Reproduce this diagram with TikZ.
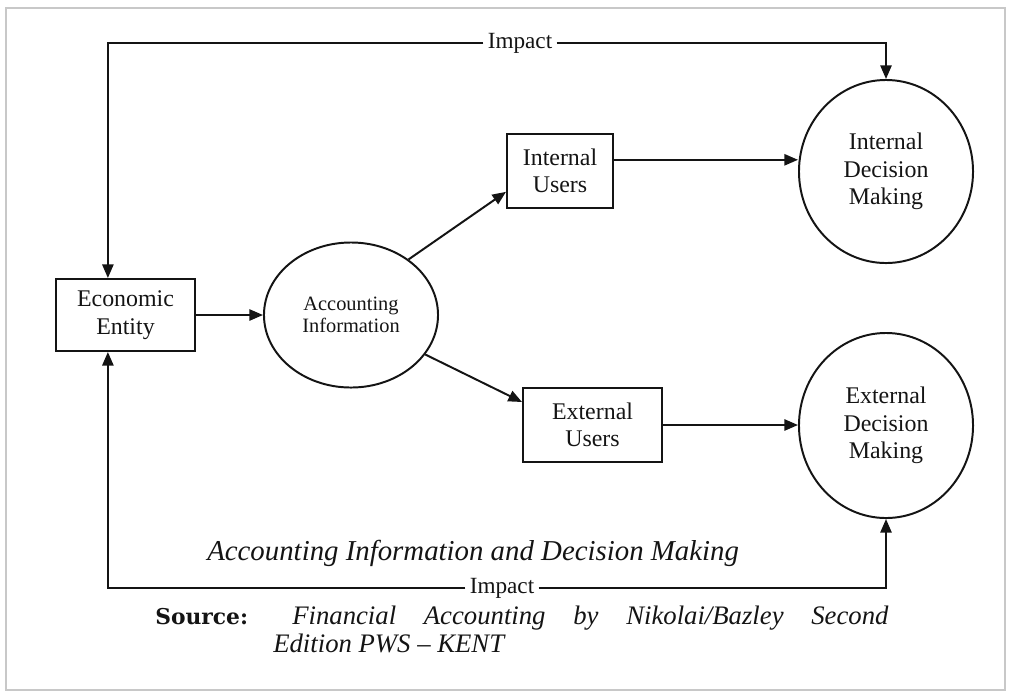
\documentclass[tikz,border=0pt]{standalone}
\usepackage{fontspec}
\setmainfont{Liberation Serif}
\newfontfamily\slabfont{DejaVu Serif}
\usetikzlibrary{arrows.meta,shapes.geometric,positioning}
\definecolor{inkc}{HTML}{141414}
\definecolor{framec}{HTML}{C8C8C8}
\tikzset{
  ar/.style={-{Triangle[length=3.4mm,width=2.8mm]},line width=1.4pt,inkc},
  box/.style={draw=inkc,line width=1.4pt,align=center,inner sep=2pt,text=inkc,font=\fontsize{17}{19.5}\selectfont},
  oval/.style={ellipse,draw=inkc,line width=1.4pt,align=center,inner sep=0pt,text=inkc,font=\fontsize{17}{19.5}\selectfont},
  lbl/.style={fill=white,inner sep=3pt,text=inkc,font=\fontsize{16.5}{18}\selectfont}
}

\begin{document}
\begin{tikzpicture}[x=0.025cm,y=-0.025cm]
\useasboundingbox (0,0) rectangle (1011,693);
\draw[framec,line width=0.8pt] (6,8) rectangle (1005,690);
% boxes and ovals
\node[box,minimum width=3.475cm,minimum height=1.8cm] (econ) at (125.5,315) {Economic\\Entity};
\node[oval,minimum width=4.35cm,minimum height=3.625cm,font=\fontsize{14.5}{16}\selectfont] (acct) at (351,315) {Accounting\\Information};
\node[box,minimum width=2.65cm,minimum height=1.85cm] (intu) at (560,171) {Internal\\Users};
\node[box,minimum width=3.475cm,minimum height=1.85cm] (extu) at (592.5,425) {External\\Users};
\node[oval,minimum width=4.35cm,minimum height=4.575cm] (intd) at (886,171.5) {Internal\\Decision\\Making};
\node[oval,minimum width=4.35cm,minimum height=4.625cm] (extd) at (886,425.5) {External\\Decision\\Making};
% impact labels
\node[lbl] (impt) at (520,43) {Impact};
\node[lbl] (impb) at (502,588) {Impact};
% flows
\draw[ar] (econ) -- (acct);
\draw[ar] (acct.44) -- ([yshift=-0.52cm]intu.west);
\draw[ar] (acct.-28) -- ([yshift=0.575cm]extu.west);
\coordinate (iu) at ([yshift=0.28cm]intu.east);
\draw[ar] (iu) -- (iu -| intd.west);
\draw[ar] (extu.east) -- (extu.east -| extd.west);
% impact loops
\draw[ar] (impt.west) -| ([xshift=-0.44cm]econ.north);
\draw[ar] (impt.east) -| (intd.north);
\draw[ar] (impb.west) -| ([xshift=-0.44cm]econ.south);
\draw[ar] (impb.east) -| (extd.south);
% caption and source
\node[anchor=base west,inner sep=0pt,text=inkc,font=\fontsize{20.5}{24}\selectfont\itshape] (capt) at (207,560) {Accounting Information and Decision Making};
\node[anchor=base west,inner sep=0pt,text=inkc,font=\fontsize{15.5}{18}\slabfont\bfseries] (srck) at (155,624) {Source:};
\node[anchor=base west,inner sep=0pt,text=inkc,font=\fontsize{19}{21}\selectfont\itshape] (srca) at (292,624) {\makebox[14.9cm][s]{Financial Accounting by Nikolai/Bazley Second}};
\node[anchor=base west,inner sep=0pt,text=inkc,font=\fontsize{19}{21}\selectfont\itshape] (srcb) at (273,652) {Edition PWS -- KENT};
\end{tikzpicture}
\end{document}
